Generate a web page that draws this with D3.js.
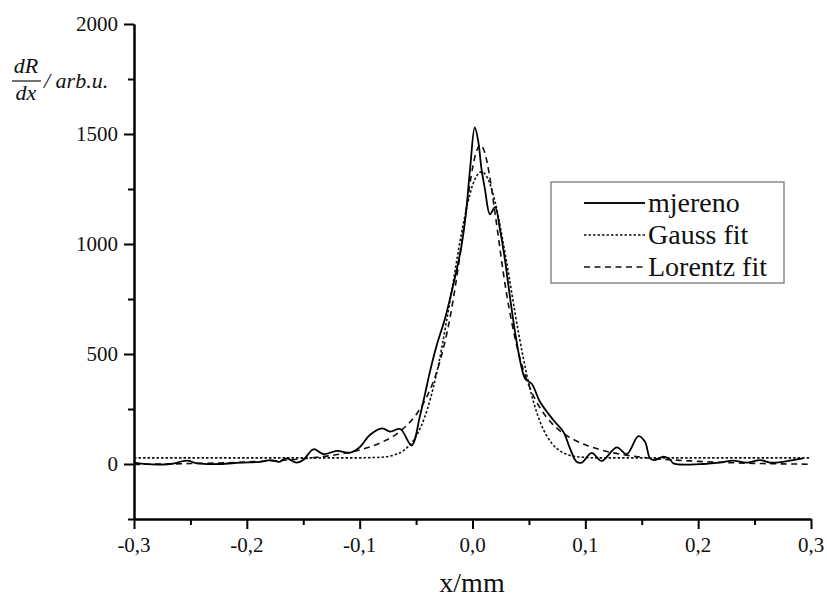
<!DOCTYPE html>
<html>
<head>
<meta charset="utf-8">
<script src="https://cdn.jsdelivr.net/npm/d3@7"></script>
<style>
  body { margin: 0; background: #fff; }
  .axis path, .axis line { stroke: #000; stroke-width: 2; }
</style>
</head>
<body>
<div id="chart"></div>
<script>
var serif = "Liberation Serif";

// tick values
var xMajorTicks = [-0.3, -0.2, -0.1, 0.0, 0.1, 0.2, 0.3];
var xMinorTicks = [-0.25, -0.15, -0.05, 0.05, 0.15, 0.25];
var yMajorTicks = [0, 500, 1000, 1500, 2000];
var yMinorTicks = [-250, 250, 750, 1250, 1750];

var measuredX = [-0.300, -0.289, -0.268, -0.253, -0.244, -0.224, -0.206, -0.188, -0.179, -0.171,
                 -0.165, -0.156, -0.150, -0.141, -0.132, -0.120, -0.109, -0.100, -0.091, -0.080,
                 -0.073, -0.064, -0.054, -0.0465, -0.042, -0.0377, -0.0317, -0.025, -0.020, -0.015,
                 -0.010, -0.006, -0.002, 0.002, 0.005, 0.008, 0.011, 0.0155, 0.020, 0.0244,
                 0.0288, 0.0332, 0.038, 0.043, 0.047, 0.0525, 0.0598, 0.0716, 0.0805, 0.0864,
                 0.0923, 0.0968, 0.1056, 0.1145, 0.1278, 0.1367, 0.147, 0.1529, 0.1573, 0.1617,
                 0.1691, 0.175, 0.178, 0.2016, 0.219, 0.231, 0.243, 0.255, 0.264, 0.275,
                 0.284, 0.293];
var measuredY = [6, -1, 0, 15, 3, 0, 6, 10, 18, 10,
                 26, 6, 18, 67, 45, 60, 51, 76, 132, 162,
                 147, 159, 84, 220, 320, 420, 540, 650, 750, 860,
                 985, 1130, 1350, 1530, 1470, 1340, 1250, 1135, 1168, 1064,
                 927, 760, 590, 450, 385, 365, 283, 200, 147, 71,
                 10, 6, 51, 14, 76, 45, 127, 101, 26, 18,
                 33, 21, 3, -1, 6, 15, 6, 18, 6, 10,
                 18, 26];

// Gauss fit
var gaussX = [-0.30, -0.20, -0.10, -0.09, -0.08, -0.07, -0.06, -0.05, -0.04, -0.03,
              -0.02, -0.01, -0.005, 0.0, 0.004, 0.008, 0.012, 0.015, 0.02, 0.03,
              0.04, 0.05, 0.06, 0.07, 0.08, 0.09, 0.10, 0.11, 0.20, 0.30];
var gaussY = [28, 28, 28, 29, 31, 40, 65, 126, 249, 456,
              739, 1041, 1169, 1266, 1312, 1328, 1312, 1280, 1192, 924,
              619, 363, 190, 96, 52, 35, 30, 28, 28, 28];

// Lorentz fit
var lorentzX = [-0.30, -0.25, -0.20, -0.15, -0.12, -0.10, -0.09, -0.08, -0.07, -0.06,
                -0.05, -0.04, -0.03, -0.02, -0.01, -0.005, 0.0, 0.003, 0.007, 0.011,
                0.015, 0.02, 0.03, 0.04, 0.05, 0.06, 0.07, 0.08, 0.09, 0.10,
                0.12, 0.15, 0.20, 0.25, 0.30];
var lorentzY = [-2, 2, 9, 24, 43, 64, 79, 100, 127, 167,
                224, 311, 446, 663, 988, 1176, 1344, 1413, 1450, 1413,
                1314, 1139, 780, 521, 357, 254, 187, 141, 110, 87,
                56, 31, 12, 3, -1];

var legendLabels = ["mjereno", "Gauss fit", "Lorentz fit"];
var legendDash = [null, "2.5,2", "6,4.5"];

var width = 827, height = 599;

var svg = d3.select("#chart").append("svg")
  .attr("width", width)
  .attr("height", height)
  .style("display", "block");

svg.append("rect").attr("width", width).attr("height", height).attr("fill", "#fff");

var x = d3.scaleLinear().domain([-0.3, 0.3]).range([134, 811]);
var y = d3.scaleLinear().domain([-250, 2000]).range([519, 24]);

var fmtX = function (d) { return d3.format(".1f")(d).replace("−", "-").replace(".", ","); };
var fmtY = d3.format("d");

// every text goes straight on the svg with the serif face set both ways
function addText(tx, ty, s, size, anchor, italic) {
  return svg.append("text")
    .attr("x", tx).attr("y", ty)
    .attr("text-anchor", anchor || "start")
    .attr("font-family", serif)
    .attr("font-size", size + "px")
    .style("font-family", serif)
    .style("font-size", size + "px")
    .style("font-style", italic ? "italic" : "normal")
    .style("fill", "#111")
    .text(s);
}

// axes: tick lines via d3.axis
svg.append("g")
  .attr("class", "axis")
  .attr("transform", "translate(0," + y(-250) + ")")
  .call(d3.axisBottom(x).tickValues(xMinorTicks).tickSize(6).tickSizeOuter(0).tickFormat(""));
svg.append("g")
  .attr("class", "axis")
  .attr("transform", "translate(" + x(-0.3) + ",0)")
  .call(d3.axisLeft(y).tickValues(yMinorTicks).tickSize(6).tickSizeOuter(0).tickFormat(""));
svg.append("g")
  .attr("class", "axis")
  .attr("transform", "translate(0," + y(-250) + ")")
  .call(d3.axisBottom(x).tickValues(xMajorTicks).tickSize(10).tickSizeOuter(0).tickFormat(""));
svg.append("g")
  .attr("class", "axis")
  .attr("transform", "translate(" + x(-0.3) + ",0)")
  .call(d3.axisLeft(y).tickValues(yMajorTicks).tickSize(10).tickSizeOuter(0).tickFormat(""));

xMajorTicks.forEach(function (d) {
  addText(x(d), y(-250) + 33, fmtX(d), 21, "middle");
});
yMajorTicks.forEach(function (d) {
  addText(x(-0.3) - 16, y(d) + 7, fmtY(d), 21, "end");
});

// curves
function makeLine(xs, curve) {
  return d3.line()
    .curve(curve)
    .x(function (d, i) { return x(xs[i]); })
    .y(function (d) { return y(d); });
}

svg.append("path")
  .datum(gaussY)
  .attr("fill", "none")
  .attr("stroke", "#111")
  .attr("stroke-width", 1.6)
  .attr("stroke-dasharray", "2.5,2")
  .attr("d", makeLine(gaussX, d3.curveMonotoneX));

svg.append("path")
  .datum(lorentzY)
  .attr("fill", "none")
  .attr("stroke", "#111")
  .attr("stroke-width", 1.6)
  .attr("stroke-dasharray", "6,4.5")
  .attr("d", makeLine(lorentzX, d3.curveMonotoneX));

svg.append("path")
  .datum(measuredY)
  .attr("fill", "none")
  .attr("stroke", "#000")
  .attr("stroke-width", 1.8)
  .attr("d", makeLine(measuredX, d3.curveCatmullRom.alpha(0.5)));

// axis titles
addText(472, 592, "x/mm", 28, "middle");
addText(26, 73, "dR", 22, "middle", true);
addText(26, 100, "dx", 22, "middle", true);
addText(44, 88, "/ arb.u.", 22, "start", true);
svg.append("line").attr("x1", 12).attr("x2", 41).attr("y1", 81).attr("y2", 81)
  .attr("stroke", "#111").attr("stroke-width", 1.2);

// legend
svg.append("rect")
  .attr("x", 551).attr("y", 182)
  .attr("width", 233).attr("height", 101)
  .attr("fill", "#fff")
  .attr("stroke", "#777")
  .attr("stroke-width", 1.3);

var rowY = [203, 235, 267];
legendLabels.forEach(function (lab, i) {
  var ln = svg.append("line")
    .attr("x1", 584).attr("x2", 645)
    .attr("y1", rowY[i]).attr("y2", rowY[i])
    .attr("stroke", "#111")
    .attr("stroke-width", i === 0 ? 1.8 : 1.5);
  if (legendDash[i]) ln.attr("stroke-dasharray", legendDash[i]);
  addText(648, rowY[i] + 9, lab, 28, "start");
});
</script>
</body>
</html>
